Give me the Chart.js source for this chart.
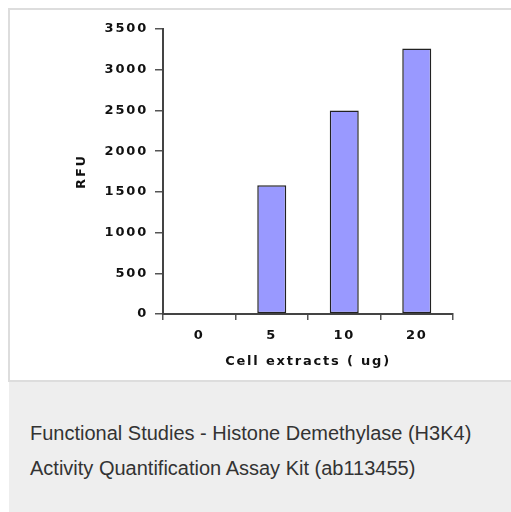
<!DOCTYPE html>
<html>
<head>
<meta charset="utf-8">
<script src="https://cdn.jsdelivr.net/npm/chart.js@4/dist/chart.umd.min.js"></script>
<style>
  html, body { margin: 0; padding: 0; background: #fff; width: 511px; height: 512px; overflow: hidden; }
  #frame { position: absolute; left: 8px; top: 8px; width: 520px; height: 374px; border: 2px solid #dddddd; box-sizing: border-box; }
  #wrap { position: absolute; left: 10px; top: 10px; width: 501px; height: 370px; }
  #caption { position: absolute; left: 9px; top: 382px; width: 510px; height: 130px; background: #eeeeee;
             font-family: "Liberation Sans", Arial, Helvetica, sans-serif; color: #333; font-size: 20px; letter-spacing: 0px; }
  #caption div { position: absolute; left: 21px; white-space: nowrap; line-height: 24px; }
</style>
</head>
<body>
<div id="frame"></div>
<div id="wrap"><canvas id="c" width="501" height="370"></canvas></div>
<div id="caption">
  <div style="top: 39px;">Functional Studies - Histone Demethylase (H3K4)</div>
  <div style="top: 74px;">Activity Quantification Assay Kit (ab113455)</div>
</div>
<script>
const categories = ['0', '5', '10', '20'];
const rfuValues = [0, 1580, 2500, 3260];
const yMin = 0;
const yMax = 3500;
const yStep = 500;
const xTitle = 'Cell extracts ( ug)';
const yTitle = 'RFU';

const spacingPlugin = {
  id: 'spacing',
  beforeUpdate(chart) { chart.ctx.letterSpacing = '1.8px'; },
  beforeLayout(chart) { chart.ctx.letterSpacing = '1.8px'; },
  beforeDraw(chart) { chart.ctx.letterSpacing = '1.8px'; }
};

const tickFont = { family: '"DejaVu Sans"', size: 13, weight: 'bold' };

new Chart(document.getElementById('c'), {
  type: 'bar',
  data: {
    labels: categories,
    datasets: [{
      data: rfuValues,
      backgroundColor: '#9999ff',
      borderColor: '#222222',
      borderWidth: 1.5,
      borderSkipped: false,
      barPercentage: 0.4,
      categoryPercentage: 1.0
    }]
  },
  options: {
    responsive: false,
    animation: false,
    devicePixelRatio: 1,
    layout: { padding: { top: 19, right: 58, bottom: 0, left: 0 } },
    plugins: { legend: { display: false }, tooltip: { enabled: false } },
    scales: {
      x: {
        afterFit(scale) { scale.height = 66; },
        grid: { display: true, offset: true, drawOnChartArea: false, drawTicks: true, tickLength: 6, color: '#555', lineWidth: 1.5 },
        border: { display: true, color: '#444', width: 2 },
        ticks: { color: '#111', font: tickFont, padding: 8 },
        title: { display: true, text: xTitle, color: '#111', font: tickFont, padding: { top: 0, bottom: 11 } }
      },
      y: {
        min: yMin, max: yMax,
        afterFit(scale) { scale.width = 153; },
        grid: { display: true, drawOnChartArea: false, drawTicks: true, tickLength: 8, color: '#555', lineWidth: 1.5 },
        border: { display: true, color: '#444', width: 2 },
        ticks: { stepSize: yStep, color: '#111', font: tickFont, padding: 7, callback: (v) => String(v) },
        title: { display: true, text: yTitle, color: '#111', font: tickFont, padding: { top: 64, bottom: 0 } }
      }
    }
  },
  plugins: [spacingPlugin]
});
</script>
</body>
</html>
